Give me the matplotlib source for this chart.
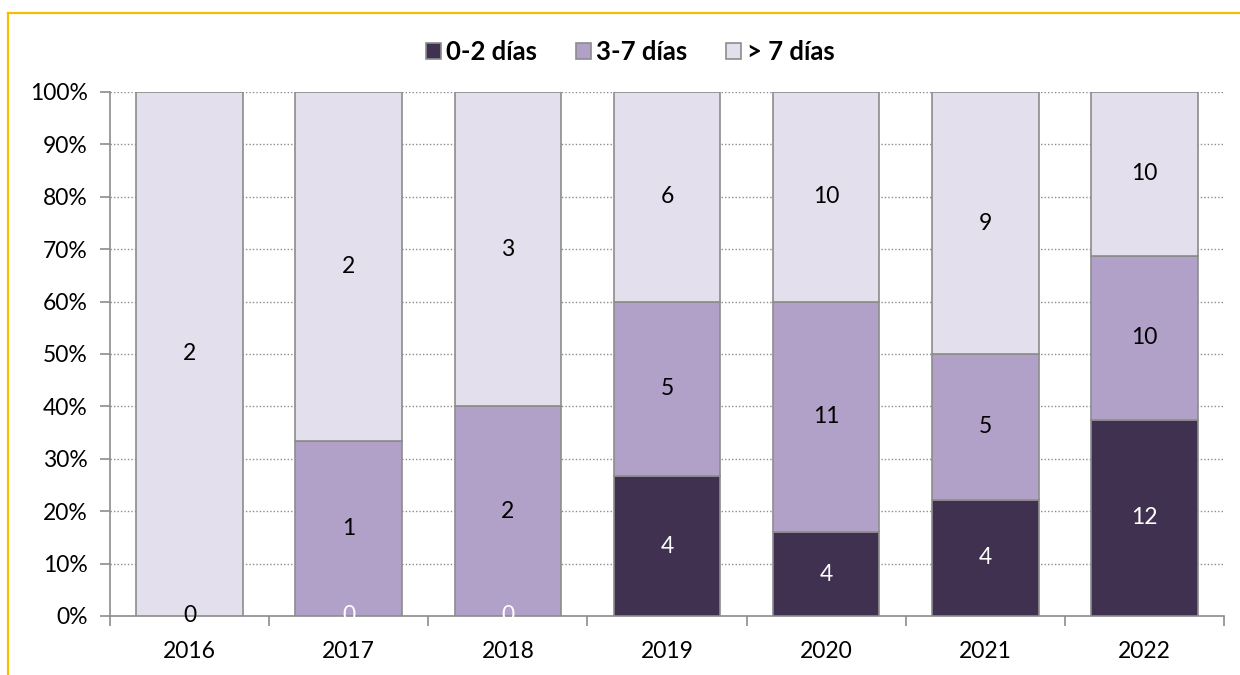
import matplotlib
matplotlib.use("Agg")
import matplotlib.pyplot as plt
import numpy as np
from matplotlib.ticker import FuncFormatter
from matplotlib.lines import Line2D

years = ["2016", "2017", "2018", "2019", "2020", "2021", "2022"]
d02 = [0, 0, 0, 4, 4, 4, 12]
d37 = [0, 1, 2, 5, 11, 5, 10]
d7p = [2, 2, 3, 6, 10, 9, 10]
series_names = ["0-2 días", "3-7 días", "> 7 días"]
colors = ["#403151", "#B1A0C7", "#E4DFEC"]
label_colors = ["white", "black", "black"]

plt.rcParams['font.family'] = ['Lato', 'DejaVu Sans']

fig = plt.figure(figsize=(12.4, 6.75), dpi=100)
ax = fig.add_axes([110/1240, 1-616/675, (1224-110)/1240, (616-92)/675])

data = np.array([d02, d37, d7p], dtype=float)
totals = data.sum(axis=0)
pct = data / totals * 100
x = np.arange(len(years))
bottom = np.zeros(len(years))
bars = []
for i in range(3):
    b = ax.bar(x, pct[i], bottom=bottom, width=0.67, color=colors[i],
               edgecolor="#8C8C8C", linewidth=1.2, label=series_names[i], zorder=3)
    bars.append(b)
    for j in range(len(years)):
        yc = bottom[j] + pct[i][j] / 2
        ax.text(x[j], yc, f"{int(data[i][j])}", ha="center", va="center",
                fontsize=16.5, color=label_colors[i], zorder=5 + i)
    bottom += pct[i]

ax.set_xlim(-0.5, len(years) - 0.5)
ax.set_ylim(0, 100)
ax.set_yticks(np.arange(0, 101, 10))
ax.yaxis.set_major_formatter(FuncFormatter(lambda v, p: f"{int(v)}%"))
ax.set_xticks(x)
ax.set_xticklabels(years)
ax.set_xticks(np.arange(-0.5, len(years), 1), minor=True)
ax.tick_params(axis="x", which="major", length=0, pad=18, labelsize=16.5)
ax.tick_params(axis="x", which="minor", length=7, color="#8C8C8C", width=1.2)
ax.tick_params(axis="y", length=7, color="#8C8C8C", width=1.2, labelsize=16.5, pad=9)
ax.yaxis.grid(True, linestyle=(0, (1, 1.5)), color="#8C8C8C", linewidth=1, zorder=0)
for s in ["top", "right"]:
    ax.spines[s].set_visible(False)
for s in ["left", "bottom"]:
    ax.spines[s].set_color("#8C8C8C")
    ax.spines[s].set_linewidth(1.2)

leg = fig.legend(handles=bars, labels=series_names, loc="center",
                 bbox_to_anchor=(0.508, 1 - 52/675), ncol=3, frameon=False,
                 prop={"weight": "bold", "size": 18.5}, handlelength=0.6,
                 handleheight=0.6, handletextpad=0.2, columnspacing=1.5)

# gold frame (top and left edges visible)
fig.add_artist(Line2D([8/1240, 1.0], [1-13/675, 1-13/675], color="#F5BE00",
                      linewidth=1.6, transform=fig.transFigure))
fig.add_artist(Line2D([8/1240, 8/1240], [0, 1-13/675], color="#F5BE00",
                      linewidth=1.6, transform=fig.transFigure))

fig.savefig("out.png", dpi=100)
